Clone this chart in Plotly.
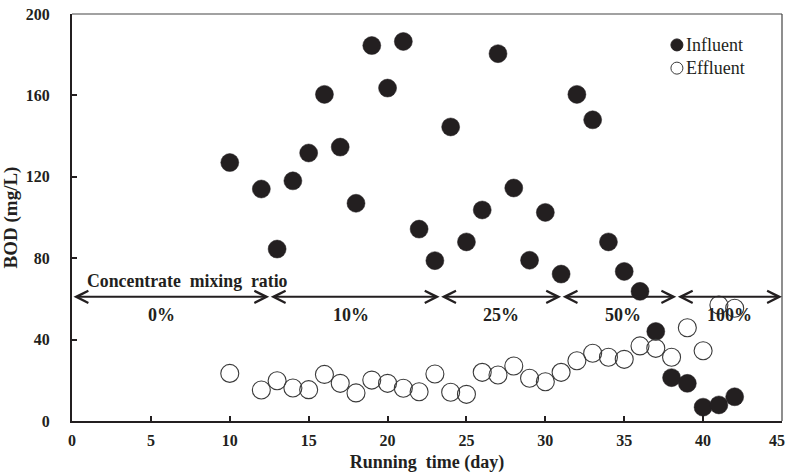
import plotly.graph_objects as go

days = [10, 12, 13, 14, 15, 16, 17, 18, 19, 20, 21, 22, 23, 24, 25, 26, 27, 28, 29, 30,
        31, 32, 33, 34, 35, 36, 37, 38, 39, 40, 41, 42]
influent = [127, 114, 84.5, 118, 131.7, 160.5, 134.6, 107, 184.5, 163.6, 186.5, 94.3, 78.8, 144.5,
            88, 103.7, 180.5, 114.5, 79, 102.5, 72.2, 160.5, 148, 88, 73.5, 63.7, 44, 21.3,
            18.5, 6.8, 7.9, 11.9]
effluent = [23.4, 15.2, 19.8, 16.2, 15.4, 22.9, 18.5, 13.8, 20.1, 18.5, 16.1, 14.4, 23.1, 14.1,
            13.1, 23.9, 22.6, 27, 21, 19.3, 23.9, 29.6, 33.3, 31.3, 30.3, 36.9, 35.7, 31.3,
            45.8, 34.5, 57, 55.4]

phase_bounds = [0, 12.5, 23.3, 31, 38.3, 45]
phase_labels = ["0%", "10%", "25%", "50%", "100%"]
phase_label_x = [5.7, 17.7, 27.2, 34.9, 41.7]
arrow_y = 61
phase_label_y = 52
ratio_title = "Concentrate mixing ratio"

x_ticks = [0, 5, 10, 15, 20, 25, 30, 35, 40, 45]
y_ticks = [0, 40, 80, 120, 160, 200]

SERIF = "Liberation Serif, Times New Roman, serif"
DARK = "#231f20"
RING = "#3a3a3a"

fig = go.Figure()
fig.add_trace(go.Scatter(
    x=days, y=influent, mode="markers", name="Influent",
    marker=dict(size=18, color=DARK, line=dict(width=0.5, color=DARK))))
fig.add_trace(go.Scatter(
    x=days, y=effluent, mode="markers", name="Effluent",
    marker=dict(size=18, color="rgba(255,255,255,0)", line=dict(width=1.1, color=RING))))

# arrows for phases
for a, b in zip(phase_bounds[:-1], phase_bounds[1:]):
    fig.add_annotation(x=b, y=arrow_y, ax=a, ay=arrow_y, xref="x", yref="y", axref="x", ayref="y",
                       text="", showarrow=True, arrowhead=5, startarrowhead=5, arrowside="end+start",
                       arrowwidth=2, arrowsize=1.2, startarrowsize=1.2, arrowcolor=DARK)
for lx, lab in zip(phase_label_x, phase_labels):
    fig.add_annotation(x=lx, y=phase_label_y, text="<b>%s</b>" % lab, showarrow=False,
                       font=dict(family=SERIF, size=18, color=DARK))
fig.add_annotation(x=0.85, y=arrow_y + 7.8, text="<b>%s</b>" % ratio_title.replace(" ", "&nbsp; "),
                   showarrow=False, xanchor="left", font=dict(family=SERIF, size=17.8, color=DARK))

# legend (drawn manually for compact symbol/text spacing)
legend_items = [("Influent", DARK, 0.924), ("Effluent", "white", 0.867)]
for name, fill, ly in legend_items:
    fig.add_shape(type="circle", xref="paper", yref="paper", xsizemode="pixel", ysizemode="pixel",
                  xanchor=0.852, yanchor=ly, x0=-6, x1=6, y0=-6, y1=6,
                  fillcolor=fill, line=dict(color=RING if fill == "white" else DARK, width=1))
    fig.add_annotation(xref="paper", yref="paper", x=0.8625, y=ly, text=name, showarrow=False,
                       xanchor="left", yanchor="middle", font=dict(family=SERIF, size=18, color=DARK))

# last x tick label kept inside the page
fig.add_annotation(xref="x", yref="paper", x=x_ticks[-1], y=0, text="<b>%d</b>" % x_ticks[-1],
                   showarrow=False, xanchor="right", yanchor="middle", xshift=5, yshift=-19,
                   font=dict(family=SERIF, size=16, color=DARK))

fig.update_layout(
    width=787, height=476,
    margin=dict(l=72, r=5, t=14, b=55, autoexpand=False),
    paper_bgcolor="white", plot_bgcolor="white",
    font=dict(family=SERIF, color=DARK),
    showlegend=False,
)
fig.update_xaxes(range=[0, 45], tickvals=x_ticks,
                 ticktext=["<b>%d</b>" % v for v in x_ticks[:-1]] + [""],
                 ticks="inside", ticklen=5, tickwidth=1.5, tickcolor=DARK, automargin=False,
                 showline=True, linewidth=2, linecolor=DARK, mirror=False, showgrid=False,
                 zeroline=False, tickfont=dict(family=SERIF, size=16, color=DARK),
                 ticklabeloverflow="allow", ticklabelstandoff=4,
                 title=dict(text="<b>Running&nbsp; time (day)</b>", font=dict(family=SERIF, size=18, color=DARK),
                            standoff=7))
fig.update_yaxes(range=[0, 200], tickvals=y_ticks, ticktext=["<b>%d</b>" % v for v in y_ticks],
                 ticks="inside", ticklen=5, tickwidth=1.5, tickcolor=DARK, automargin=False,
                 showline=True, linewidth=2, linecolor=DARK, mirror=False, showgrid=False,
                 zeroline=False, tickfont=dict(family=SERIF, size=16, color=DARK),
                 ticklabelstandoff=17,
                 title=dict(text="<b>BOD (mg/L)</b>", font=dict(family=SERIF, size=19, color=DARK),
                            standoff=3))
# top and right frame
fig.add_shape(type="line", xref="paper", yref="paper", x0=0, x1=1, y0=1, y1=1,
              line=dict(color="#444444", width=1.2))
fig.add_shape(type="line", xref="paper", yref="paper", x0=1, x1=1, y0=0, y1=1,
              line=dict(color="#444444", width=1.2))

fig.write_html("out.html")
